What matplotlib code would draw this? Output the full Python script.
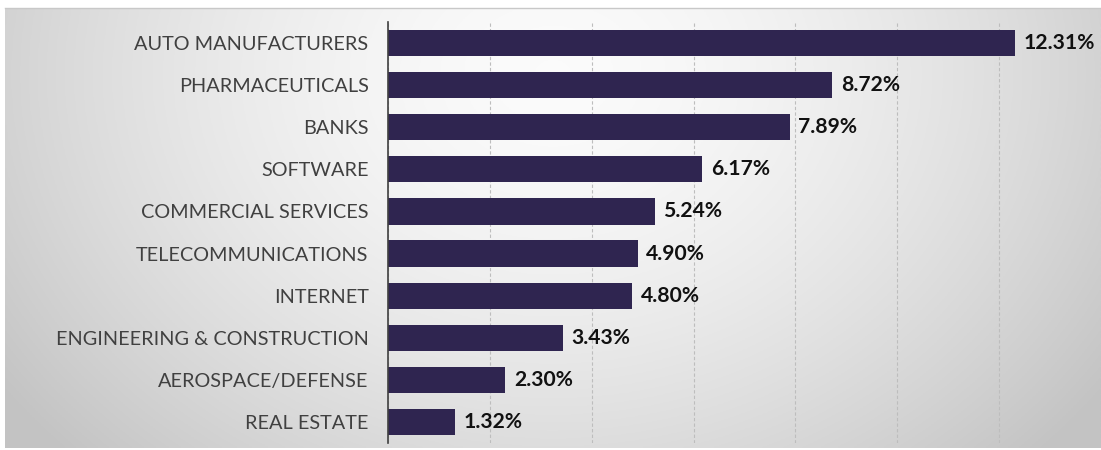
import numpy as np
import matplotlib
matplotlib.use("Agg")
import matplotlib.pyplot as plt

categories = ["AUTO MANUFACTURERS", "PHARMACEUTICALS", "BANKS", "SOFTWARE",
              "COMMERCIAL SERVICES", "TELECOMMUNICATIONS", "INTERNET",
              "ENGINEERING & CONSTRUCTION", "AEROSPACE/DEFENSE", "REAL ESTATE"]
values = [12.31, 8.72, 7.89, 6.17, 5.24, 4.90, 4.80, 3.43, 2.30, 1.32]
labels = ["12.31%", "8.72%", "7.89%", "6.17%", "5.24%", "4.90%", "4.80%",
          "3.43%", "2.30%", "1.32%"]

W, H = 1101, 450
fig = plt.figure(figsize=(W / 100, H / 100), dpi=100)
fig.patch.set_facecolor("white")

# background gradient panel
bx0, by0, bx1, by1 = 5, 8, 1101, 448
bg = fig.add_axes([bx0 / W, 1 - by1 / H, (bx1 - bx0) / W, (by1 - by0) / H])
yy, xx = np.mgrid[0:1:200j, 0:1:400j]
r = np.sqrt(((xx - 0.5) / 0.62) ** 2 + ((yy - 0.15) / 1.25) ** 2)
r = np.clip(r, 0, 1)
c0, c1 = 0.985, 0.765
val = c0 + (c1 - c0) * r ** 1.6
img = np.dstack([val, val, val])
bg.imshow(img, aspect="auto", extent=(0, 1, 0, 1), origin="upper")
bg.set_axis_off()
# top border line
fig.add_artist(plt.Line2D([bx0 / W, 1], [1 - 7.5 / H, 1 - 7.5 / H],
                          color="#c8c8c8", lw=1.0, transform=fig.transFigure))

ax_left, ax_top, ax_bottom = 388, 22, 443
ax = fig.add_axes([ax_left / W, 1 - ax_bottom / H, (W - ax_left) / W,
                   (ax_bottom - ax_top) / H])
ax.patch.set_alpha(0)
y = np.arange(len(categories))
ax.barh(y, values, height=0.62, color="#2f2550", zorder=3)
ax.set_xlim(0, 14)
ax.set_ylim(len(categories) - 0.5, -0.5)
ax.set_xticks(np.arange(0, 15, 2))
ax.xaxis.grid(True, color="#bdbdbd", lw=0.8, ls=(0, (3, 2)), zorder=0)
ax.tick_params(axis="x", length=0, labelbottom=False)
ax.tick_params(axis="y", length=0, pad=14)
ax.set_yticks(y)
ax.set_yticklabels(categories, fontfamily="Lato", fontsize=14.3, color="#404040")
for s in ["top", "right", "bottom"]:
    ax.spines[s].set_visible(False)
ax.spines["left"].set_color("#404040")
ax.spines["left"].set_linewidth(1.2)
ax.spines["left"].set_zorder(4)

for yi, v, lab in zip(y, values, labels):
    ax.text(v + 0.17, yi, lab, va="center", ha="left", fontfamily="Lato",
            fontweight="bold", fontsize=15.2, color="#111111")

fig.savefig("out.png", dpi=100)
